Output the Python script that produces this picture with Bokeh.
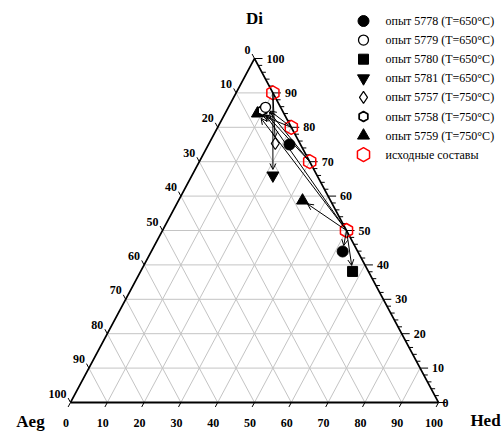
import math
from bokeh.plotting import figure
from bokeh.models import Arrow, OpenHead, ColumnDataSource, Range1d
from bokeh.core.properties import value
from bokeh.embed import file_html
from bokeh.resources import INLINE

# ---------------- data ----------------
# starting compositions (mol %): Di, Hed  (Aeg = 100 - Di - Hed)
start_di = [90, 80, 70, 50]
start_hed = [10, 20, 30, 50]

# experiments
exp_names = ["5778", "5779", "5780", "5781", "5757", "5758", "5759"]
exp_temp = [650, 650, 650, 650, 750, 750, 750]

# experimental results: experiment index, Di, Hed
res_exp = [0, 0, 1, 2, 3, 4, 5, 6, 6]
res_di = [75.0, 43.9, 85.8, 38.1, 66.0, 75.3, 84.9, 84.0, 58.7]
res_hed = [22.0, 52.0, 10.1, 57.6, 22.0, 18.0, 9.7, 8.8, 33.7]

# arrows: starting composition index -> result index
arrow_from = [0, 0, 1, 1, 2, 2, 3, 3, 3, 3, 3]
arrow_to = [4, 5, 2, 7, 6, 2, 7, 6, 8, 1, 3]

tick_values = [0, 10, 20, 30, 40, 50, 60, 70, 80, 90, 100]
tick_labels = ["0", "10", "20", "30", "40", "50", "60", "70", "80", "90", "100"]
legend_labels = ["опыт 5778 (T=650°C)", "опыт 5779  (T=650°C)", "опыт 5780  (T=650°C)",
                 "опыт 5781  (T=650°C)", "опыт 5757  (T=750°C)", "опыт 5758  (T=750°C)",
                 "опыт 5759  (T=750°C)", "исходные составы"]

# ---------------- geometry ----------------
W, H = 502, 432
SX, SY = 3.68, 3.44          # px per data unit
X0 = -70 / SX
X1 = X0 + W / SX
Y1 = 100 + 58 / SY
Y0 = Y1 - H / SY


def tern(di, hed):
    return hed + di / 2.0, di


def px2x(px):
    return X0 + px / SX


def py2y(py):
    return Y1 - py / SY


FONT = value("Liberation Serif")

p = figure(width=W, height=H, x_range=Range1d(X0, X1), y_range=Range1d(Y0, Y1),
           output_backend="svg", toolbar_location=None, min_border=0,
           x_axis_type=None, y_axis_type=None)
p.grid.visible = False
p.outline_line_color = None
p.background_fill_color = "white"
p.border_fill_color = "white"

# ---------------- grid ----------------
gx, gy = [], []
for k in range(10, 100, 10):
    a = tern(k, 0); b = tern(k, 100 - k)
    gx.append([a[0], b[0]]); gy.append([a[1], b[1]])
    a = tern(0, k); b = tern(100 - k, k)
    gx.append([a[0], b[0]]); gy.append([a[1], b[1]])
    a = tern(0, 100 - k); b = tern(100 - k, 0)
    gx.append([a[0], b[0]]); gy.append([a[1], b[1]])
p.multi_line(gx, gy, line_color="#c4c4c4", line_width=1)

# ---------------- edges ----------------
vA = tern(0, 0); vH = tern(0, 100); vD = tern(100, 0)
p.line([vA[0], vH[0]], [vA[1], vH[1]], line_color="black", line_width=2.2)
p.line([vA[0], vD[0], vH[0]], [vA[1], vD[1], vH[1]], line_color="black", line_width=1.6)

# ---------------- ticks ----------------
tx, ty = [], []
t = 0.013
for v in tick_values:
    x, y = tern(100 - v, 0)
    tx.append([x, x - 50 * t]); ty.append([y, y + 100 * t])
    x, y = tern(0, v)
    tx.append([x, x - 50 * t]); ty.append([y, y - 100 * t])
for v in range(0, 101, 2):
    x, y = tern(v, 100 - v)
    L = 8 / SX if v % 10 == 0 else 4 / SX
    tx.append([x, x + L]); ty.append([y, y])
p.multi_line(tx, ty, line_color="black", line_width=1)

# ---------------- tick labels ----------------
lx = [tern(100 - v, 0)[0] for v in tick_values]
ly = [tern(100 - v, 0)[1] for v in tick_values]
p.text(lx, ly, text=tick_labels, text_font=FONT, text_font_style="bold", text_font_size="12px",
       text_align="right", text_baseline="middle", x_offset=-4, y_offset=-9, text_color="black")

bx = [tern(0, v)[0] for v in tick_values]
by = [py2y(422)] * len(tick_values)
p.text(bx, by, text=tick_labels, text_font=FONT, text_font_style="bold", text_font_size="12px",
       text_align="center", text_baseline="middle", x_offset=-4.5, text_color="black")

rx = [tern(v, 100 - v)[0] + (12 if v > 0 else 4) / SX for v in tick_values]
ry = [tern(v, 100 - v)[1] for v in tick_values]
p.text(rx, ry, text=tick_labels, text_font=FONT, text_font_style="bold", text_font_size="12px",
       text_align="left", text_baseline="middle", text_color="black")

# ---------------- vertex titles ----------------
p.text([px2x(254), px2x(30), px2x(485)], [py2y(18), py2y(421), py2y(420)],
       text=["Di", "Aeg", "Hed"], text_font=FONT, text_font_style="bold", text_font_size="17px",
       text_align="center", text_baseline="middle", text_color="black")

# ---------------- arrows ----------------
xs0, ys0, xs1, ys1 = [], [], [], []
for f, tt in zip(arrow_from, arrow_to):
    sx_, sy_ = tern(start_di[f], start_hed[f])
    ex_, ey_ = tern(res_di[tt], res_hed[tt])
    dxp = (ex_ - sx_) * SX; dyp = (ey_ - sy_) * SY
    L = math.hypot(dxp, dyp)
    k = (L - 6) / L
    xs0.append(sx_); ys0.append(sy_)
    xs1.append(sx_ + (ex_ - sx_) * k); ys1.append(sy_ + (ey_ - sy_) * k)
asrc = ColumnDataSource(dict(x0=xs0, y0=ys0, x1=xs1, y1=ys1))
p.add_layout(Arrow(end=OpenHead(size=6, line_width=1, line_color="black"),
                   x_start="x0", y_start="y0", x_end="x1", y_end="y1",
                   line_width=1, line_color="black", source=asrc))

# ---------------- markers ----------------
styles = [
    dict(marker="circle", size=11, fill_color="black", line_color="black", line_width=1),
    dict(marker="circle", size=10, fill_color="white", line_color="black", line_width=1.3),
    dict(marker="square", size=10, fill_color="black", line_color="black", line_width=1),
    dict(marker="inverted_triangle", size=12, fill_color="black", line_color="black", line_width=1),
    dict(marker="diamond", size=12, fill_color="white", line_color="black", line_width=1.2),
    dict(marker="hex", size=10, fill_color="white", line_color="black", line_width=1.8,
         angle=math.pi / 2),
    dict(marker="triangle", size=12, fill_color="black", line_color="black", line_width=1),
]
start_style = dict(marker="hex", size=14, fill_alpha=0, fill_color="white",
                   line_color="red", line_width=1.5, angle=math.pi / 2)

for e in [6, 3, 2, 0, 4, 5, 1]:
    idx = [i for i, r in enumerate(res_exp) if r == e]
    xs = [tern(res_di[i], res_hed[i])[0] for i in idx]
    ys = [tern(res_di[i], res_hed[i])[1] for i in idx]
    p.scatter(xs, ys, **styles[e])

sxs = [tern(d, h)[0] for d, h in zip(start_di, start_hed)]
sys_ = [tern(d, h)[1] for d, h in zip(start_di, start_hed)]
p.scatter(sxs, sys_, **start_style)

# ---------------- legend ----------------
leg_y = [py2y(20.5 + 19.1 * i) for i in range(len(legend_labels))]
mx = px2x(363)
for i, st in enumerate(styles + [start_style]):
    p.scatter([mx], [leg_y[i]], **st)
p.text([px2x(385)] * len(legend_labels), leg_y, text=legend_labels, text_font=FONT,
       text_font_size="12px", text_align="left", text_baseline="middle", text_color="black")

open("out.html", "w").write(file_html(p, INLINE))
